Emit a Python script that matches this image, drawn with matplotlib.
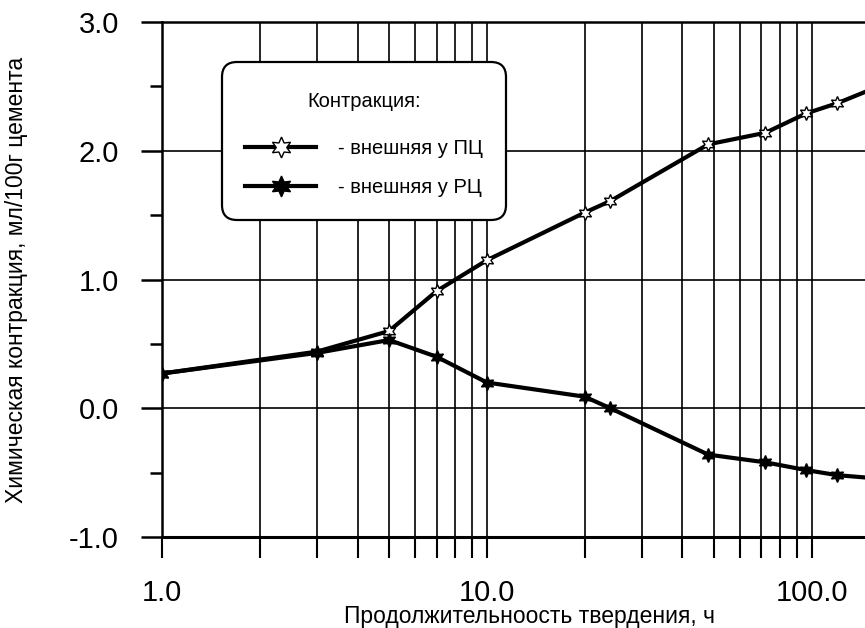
import numpy as np
import matplotlib.pyplot as plt
from matplotlib.ticker import FixedLocator, FixedFormatter, LogLocator, NullFormatter

plt.rcParams['font.family'] = ['Liberation Sans', 'DejaVu Sans']

# hardening time, h
hours = [1, 3, 5, 7, 10, 20, 24, 48, 72, 96, 120, 168]
# external contraction, ml/100 g cement
pc = [0.27, 0.44, 0.60, 0.91, 1.15, 1.52, 1.61, 2.05, 2.14, 2.29, 2.37, 2.52]
rc = [0.27, 0.43, 0.53, 0.40, 0.20, 0.09, 0.00, -0.36, -0.42, -0.48, -0.52, -0.55]

x_ticks = [1, 10, 100]
x_tick_labels = ['1.0', '10.0', '100.0']
y_ticks = [-1, 0, 1, 2, 3]
y_tick_labels = ['-1.0', '0.0', '1.0', '2.0', '3.0']

fig = plt.figure(figsize=(8.65, 6.28), dpi=100)
ax = fig.add_axes([0.1873, 0.1449, 0.8173, 0.820])

ax.plot(hours, pc, color='black', lw=3.0, marker=(6, 1, 0), ms=10,
        mfc='white', mec='black', mew=1.0, label='- внешняя у ПЦ', zorder=3)
ax.plot(hours, rc, color='black', lw=3.0, marker=(6, 1, 0), ms=10,
        mfc='black', mec='black', mew=1.0, label='- внешняя у РЦ', zorder=3)

ax.set_xscale('log')
ax.set_xlim(1, 150)
ax.set_ylim(-1, 3)

ax.xaxis.set_major_locator(FixedLocator(x_ticks))
ax.xaxis.set_major_formatter(FixedFormatter(x_tick_labels))
ax.xaxis.set_minor_locator(LogLocator(base=10, subs=np.arange(2, 10)))
ax.xaxis.set_minor_formatter(NullFormatter())
ax.yaxis.set_major_locator(FixedLocator(y_ticks))
ax.yaxis.set_major_formatter(FixedFormatter(y_tick_labels))
ax.yaxis.set_minor_locator(FixedLocator([-0.5, 0.5, 1.5, 2.5]))

ax.tick_params(axis='x', which='both', direction='out', length=15, width=1.5,
               labelsize=21, pad=15)
ax.tick_params(axis='y', which='major', direction='out', length=15, width=1.8,
               labelsize=21, pad=16)
ax.tick_params(axis='y', which='minor', direction='out', length=9, width=1.8)

ax.grid(True, which='both', axis='x', color='black', lw=1.2)
ax.grid(True, which='major', axis='y', color='black', lw=1.2)
ax.set_axisbelow(True)

for s in ['top', 'left']:
    ax.spines[s].set_linewidth(1.8)
ax.spines['bottom'].set_linewidth(2.2)
ax.spines['right'].set_visible(False)

ax.set_xlabel('Продолжительноость твердения, ч', fontsize=16.5)
ax.set_ylabel('Химическая контракция, мл/100г цемента', fontsize=16.5)
ax.xaxis.set_label_coords(0.52, -0.132)
ax.yaxis.set_label_coords(-0.19, 0.5)

leg = ax.legend(title='Контракция:', loc='upper left', bbox_to_anchor=(0.085, 0.922),
                borderaxespad=0, fontsize=14.5, title_fontsize=14.5, frameon=True,
                fancybox=True, framealpha=1, edgecolor='black', markerscale=1.5,
                handlelength=3.5, handletextpad=1.1, borderpad=1.15, labelspacing=1.0)
frame = leg.get_frame()
frame.set_linewidth(1.6)
frame.set_boxstyle('round', pad=0, rounding_size=0.75)
leg._legend_box.sep = 25
leg.get_title().set_position((0, -7))  # push the title a little lower in the box

fig.savefig('out.png', dpi=100)
